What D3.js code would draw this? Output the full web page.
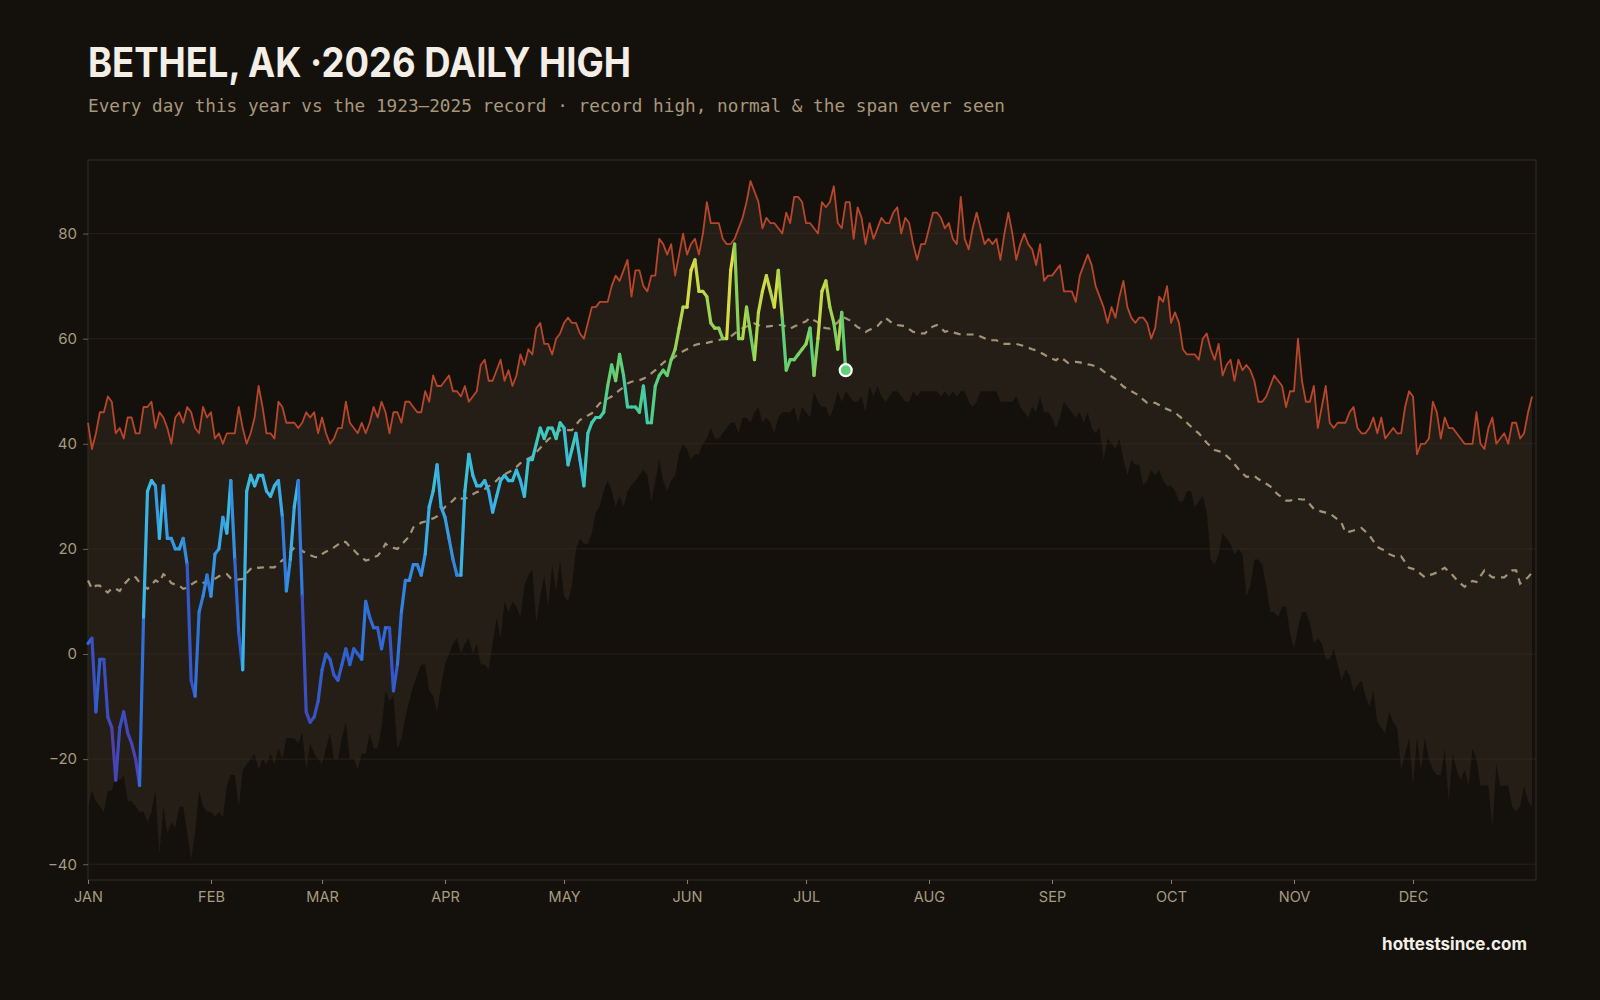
<!DOCTYPE html>
<html><head><meta charset="utf-8">
<script src="https://cdn.jsdelivr.net/npm/d3@7/dist/d3.min.js"></script>
<style>
html,body{margin:0;padding:0;background:#14110d;}
svg{display:block;}
</style></head>
<body>
<svg id="chart" width="1600" height="1000"></svg>
<script>
const titleText = "BETHEL, AK \u00b72026 DAILY HIGH";
const subtitleText = "Every day this year vs the 1923\u20132025 record \u00b7 record high, normal & the span ever seen";
const footerText = "hottestsince.com";
const monthLabels = ["JAN","FEB","MAR","APR","MAY","JUN","JUL","AUG","SEP","OCT","NOV","DEC"];
const yTicks = [-40,-20,0,20,40,60,80];

const recordHigh = [44,39,42,46,46,49,48,42,43,41,
45,45,42,42,47,47,48,43,46,45,
43,40,45,46,44,47,46,43,42,47,
45,46,41,42,40,42,42,42,47,43,
40,42,45,51,47,42,42,41,48,47,
44,44,44,43,44,46,45,46,42,45,
42,40,41,43,43,48,44,43,42,44,
42,44,47,45,48,46,42,46,46,44,
48,48,47,46,46,50,48,53,51,51,
52,53,50,50,49,51,48,49,50,55,
56,52,52,54,56,52,54,51,53,57,
55,58,57,62,63,59,59,57,60,61,
63,64,63,63,61,60,63,66,66,67,
67,67,70,72,71,73,75,68,73,73,
70,69,72,72,79,78,76,78,72,76,
80,76,78,79,76,80,86,82,82,82,
79,78,78,79,81,83,86,90,88,86,
81,83,82,82,81,80,84,82,87,87,
86,82,82,81,80,86,85,86,89,82,
81,86,86,79,85,83,78,82,79,81,
83,82,82,84,85,80,83,82,78,75,
78,78,81,84,84,83,81,82,79,78,
87,79,77,81,84,81,78,79,78,79,
75,80,84,80,75,78,80,78,77,74,
78,71,72,72,73,74,69,69,69,67,
72,74,76,74,70,68,66,63,66,64,
68,71,66,64,63,64,64,63,60,62,
68,67,70,63,65,63,58,57,57,57,
56,60,61,58,56,59,53,55,56,52,
56,54,55,54,52,48,48,49,51,53,
52,51,47,50,50,60,52,48,48,51,
43,47,51,44,43,44,44,44,46,47,
43,42,42,43,45,42,45,41,42,43,
42,42,47,50,49,38,40,40,41,48,
46,41,45,43,43,42,41,40,40,40,
46,40,39,43,45,40,41,42,40,44,
44,41,42,46,49];

const recordLow = [-29,-26,-28,-29,-30,-26,-26,-23,-24,-23,
-28,-28,-29,-30,-30,-32,-30,-26,-38,-29,
-34,-32,-33,-29,-29,-34,-39,-34,-26,-29,
-30,-30,-31,-30,-31,-25,-23,-23,-29,-22,
-21,-20,-19,-22,-20,-21,-19,-21,-18,-20,
-16,-16,-16,-17,-15,-22,-17,-19,-20,-21,
-18,-15,-20,-20,-16,-13,-20,-20,-22,-19,
-19,-15,-18,-18,-14,-7,-9,-8,-18,-16,
-12,-9,-6,-4,-2,-2,-7,-8,-11,-6,
-2,0,2,3,0,2,3,0,2,-2,
-2,-3,2,7,3,10,8,10,9,7,
13,15,16,6,11,15,9,17,12,18,
11,10,13,20,22,21,21,23,27,28,
31,33,31,28,30,28,31,32,33,34,
35,34,29,33,37,33,31,33,34,38,
40,39,37,38,38,40,41,43,41,41,
42,43,44,44,42,45,45,44,46,47,
44,45,44,42,45,46,46,46,47,44,
47,46,45,50,48,47,47,45,47,50,
48,50,49,48,48,49,46,51,49,51,
49,48,49,50,50,49,48,48,50,49,
50,50,50,50,50,49,50,49,50,49,
50,50,48,47,48,50,50,50,50,50,
48,48,48,48,49,47,46,45,47,46,
49,46,46,45,43,45,48,47,46,45,
46,44,46,43,42,43,37,41,40,39,
41,37,34,37,36,36,32,33,35,34,
35,33,32,32,31,29,29,31,31,28,
29,30,27,18,17,19,23,22,21,19,
20,19,11,13,18,18,17,13,8,8,
7,9,9,4,1,5,8,8,6,2,
3,2,-1,-1,1,-2,-5,-3,-4,-7,
-6,-5,-8,-10,-7,-13,-14,-15,-11,-13,
-14,-22,-19,-16,-25,-16,-22,-16,-20,-22,
-23,-23,-18,-28,-19,-22,-24,-22,-25,-18,
-20,-25,-25,-25,-33,-21,-25,-25,-25,-29,
-30,-29,-25,-28,-29];

const normal = [14,12.4,13,13,12.2,11.7,12.5,12.4,12,13.2,
14,14.8,14.6,13.6,13,12.4,13.2,14,13.6,15.2,
14.6,13.5,13.2,13,12.4,12.6,13.2,13.7,14,13.6,
13.5,14,14.3,14.8,15.2,15.2,14.4,14,14.2,14.3,
15.4,16.2,16.6,16.4,16.5,16.2,16.5,16.5,17.3,17.8,
18.6,19.4,20.2,20.4,19.6,19.2,18.8,18.5,18.4,19,
19.5,19.7,20.3,20.8,21.4,21.3,20.4,19.8,19,18.4,
17.8,18,18.4,18.7,19.6,21,20.4,20.2,20,20.8,
21.6,22.4,24.1,24.4,25,25.2,25.6,25.8,26.2,27,
28,28.6,29.2,30,29.6,29.5,29.9,30.4,30.8,31,
31.4,31.9,32.4,33,33.8,34.2,34.6,35,35.6,36.3,
36.8,37.2,37.6,38.4,39.2,40,40.8,41.4,42,42.6,
42.8,42.6,42.6,43.6,44.5,45,45.4,45.8,46.8,47.7,
48.2,48.6,49,49.6,50.2,50.8,51.5,51.8,52,52.1,
52.4,52.8,53.4,54,54.7,55.4,56,56,56.6,57.2,
57.6,58,58.4,58.8,59,59.1,59.2,59.4,59.5,59.7,
60,60.2,60.4,61,61.5,62,62.3,62.6,62.9,62.6,
62.4,62.3,62.4,62.5,62.6,62.6,62.3,61.9,62.3,62.6,
63,63.3,64,63.5,63.1,62.2,62,61.9,62.5,63.1,
64.2,63.9,63.5,62.8,62.2,61.8,61.3,61.7,62,62.4,
63.2,64,63.4,62.8,62.6,62.5,62.4,61.8,61.3,61.2,
61,61,61.9,62.3,62.6,62,61.3,61.5,61.2,61,
60.8,60.8,60.8,60.8,60.8,60.4,60.1,59.7,59.7,59.7,
59.3,59,59,59,59,58.8,58.6,58.3,58,57.8,
57.4,57,56.5,56.2,55.9,56.5,56,55.4,55.5,55.6,
55.5,55.3,55.1,55,54.7,54.4,53.8,53.2,52.8,52.3,
51.6,50.9,50.4,50,49.6,49.1,48.4,47.8,47.8,47.8,
47.4,46.9,46.6,46.3,46,45.3,44.7,44,43.3,42.6,
42,41.1,40.2,39.5,38.8,38.6,38.4,37.7,37,36.1,
35.2,34.4,33.7,33.8,33.9,33.3,32.8,32.4,31.9,31.1,
30.3,29.8,29.2,29.2,29.4,29.5,29.4,29.4,28.5,27.6,
27.3,27.1,26.9,26.7,26.2,25.6,24.9,23.1,23.3,23.5,
23.8,24,23.3,22.6,21.5,20.4,20,19.7,19,18.7,
18.4,18.6,17.5,16.4,16.2,15.9,15.2,14.6,15,15.2,
15.5,16,16.4,15.7,15,14.1,13.4,12.8,13.4,13.9,
13.7,14.8,15.9,15.2,14.6,14.6,14.6,14.6,15.2,15.9,
15.9,13.4,14,14.6,15.5];

const daily2026 = [2,3,-11,-1,-1,-12,-14,-24,-14,-11,
-15,-17,-20,-25,7,31,33,32,22,32,
22,22,20,20,22,17,-5,-8,8,11,
15,11,19,20,26,23,33,18,4,-3,
31,34,32,34,34,31,30,32,33,26,
12,18,28,33,11,-11,-13,-12,-9,-3,
0,-1,-4,-5,-2,1,-2,1,0,-1,
10,7,5,5,1,5,5,-7,-2,8,
14,14,17,17,15,19,28,31,36,28,
26,22,18,15,15,31,38,34,32,32,
33,31,27,30,33,34,33,33,35,33,
30,37,37,40,43,41,43,43,41,44,
43,36,39,42,37,32,42,44,45,45,
46,51,55,52,57,53,47,47,47,46,
51,44,44,51,53,54,53,56,58,62,
66,66,73,75,69,69,68,63,62,62,
60,60,73,78,60,60,66,61,56,65,
69,72,69,66,73,64,54,56,56,57,
58,59,62,53,60,69,71,66,63,58,
65,54];

const tempStops  = [-30,-20,-10,0,10,20,30,40,50,56,62,70,78];
const tempColors = ["#5a3aa6","#4a42b4","#3a50c4","#3060d0","#3076dc","#3596e4","#39b3e8","#3cc7cc","#48cf90","#6ccf6a","#98d452","#cada48","#e8e040"];

// ---------- layout ----------
const svg = d3.select("#chart");
const L = 88, R = 1536, T = 160, B = 880;
const day0 = Date.UTC(2026,0,1);
const dateOf = i => new Date(day0 + i*864e5);
const x = d3.scaleUtc().domain([new Date(day0), new Date(Date.UTC(2027,0,1))]).range([L,R]);
const y = d3.scaleLinear().domain([-43,94]).range([B,T]);
const color = d3.scaleLinear().domain(tempStops).range(tempColors).interpolate(d3.interpolateRgb).clamp(true);
const monthTicks = monthLabels.map((m,k)=>new Date(Date.UTC(2026,k,1)));

svg.append("rect").attr("width",1600).attr("height",1000).attr("fill","#14110d");

// band (record span)
const band = recordHigh.map((h,i)=>({i, h, l: recordLow[i]}));
svg.append("path").datum(band)
  .attr("fill","#251e16")
  .attr("d", d3.area().x(d=>x(dateOf(d.i))).y0(d=>y(d.l)).y1(d=>y(d.h)));

// gridlines
svg.append("g").selectAll("line").data(yTicks).join("line")
  .attr("x1",L).attr("x2",R).attr("y1",d=>y(d)).attr("y2",d=>y(d))
  .attr("stroke","#3a2b24").attr("stroke-opacity",0.55).attr("stroke-width",1);

// frame
svg.append("rect").attr("x",L).attr("y",T).attr("width",R-L).attr("height",B-T)
  .attr("fill","none").attr("stroke","#2e2922").attr("stroke-width",1.2);

// record high line
svg.append("path").datum(recordHigh)
  .attr("fill","none").attr("stroke","#b8462a").attr("stroke-width",1.8).attr("stroke-linejoin","round")
  .attr("d", d3.line().x((d,i)=>x(dateOf(i))).y(d=>y(d)));

// normal dashed
svg.append("path").datum(normal)
  .attr("fill","none").attr("stroke","#a39478").attr("stroke-width",2.2)
  .attr("stroke-dasharray","7,6")
  .attr("d", d3.line().x((d,i)=>x(dateOf(i))).y(d=>y(d)));

// 2026 line, each segment coloured by its temperature
const segs = daily2026.slice(1).map((v,k)=>({a:daily2026[k], b:v, i:k}));
svg.append("g").selectAll("path").data(segs).join("path")
  .attr("fill","none").attr("stroke-width",3.2).attr("stroke-linecap","round").attr("stroke-linejoin","round")
  .attr("stroke", d=>color(d.b))
  .attr("d", d=>d3.line()([[x(dateOf(d.i)),y(d.a)],[x(dateOf(d.i+1)),y(d.b)]]));

const last = daily2026.length-1;
svg.append("circle").attr("cx",x(dateOf(last))).attr("cy",y(daily2026[last])).attr("r",6)
  .attr("fill",color(daily2026[last])).attr("stroke","#ffffff").attr("stroke-width",2.2);

// axes
const yAxis = svg.append("g").attr("transform",`translate(${L},0)`)
  .call(d3.axisLeft(y).tickValues(yTicks).tickSize(5).tickPadding(6));
yAxis.select(".domain").remove();
yAxis.selectAll("line").attr("stroke","#6b604f");
yAxis.selectAll("text").attr("fill","#a89b80").attr("font-family","Inter, 'Noto Sans', sans-serif").attr("font-size",15);

const xAxis = svg.append("g").attr("transform",`translate(0,${B})`)
  .call(d3.axisBottom(x).tickValues(monthTicks).tickFormat(d=>monthLabels[d.getUTCMonth()]).tickSize(4).tickPadding(8));
xAxis.select(".domain").remove();
xAxis.selectAll("line").attr("stroke","#8c806b");
xAxis.selectAll("text").attr("fill","#a89b80").attr("font-family","Inter, 'Noto Sans', sans-serif").attr("font-size",14.5);

// titles
svg.append("text").attr("x",88).attr("y",77).text(titleText)
  .attr("fill","#f3efe6").attr("font-family","Inter, Lato, sans-serif").attr("font-weight",700).attr("font-size",41)
  .attr("textLength",543).attr("lengthAdjust","spacingAndGlyphs");
svg.append("text").attr("x",88).attr("y",112).text(subtitleText)
  .attr("fill","#a8977b").attr("font-family","'DejaVu Sans Mono', monospace").attr("font-size",17.5)
  .attr("textLength",917).attr("lengthAdjust","spacingAndGlyphs");
svg.append("text").attr("x",1527).attr("y",950).attr("text-anchor","end").text(footerText)
  .attr("fill","#f3efe6").attr("font-family","Inter, Lato, sans-serif").attr("font-weight",700).attr("font-size",17);
</script>
</body></html>
